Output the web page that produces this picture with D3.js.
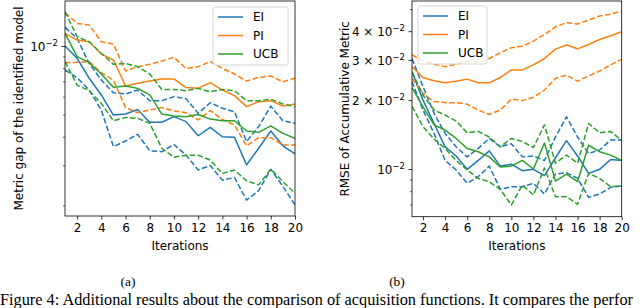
<!DOCTYPE html>
<html>
<head>
<meta charset="utf-8">
<script src="https://cdn.jsdelivr.net/npm/d3@7"></script>
<style>
  body { margin: 0; background: #fff; }
  svg { display: block; }
</style>
</head>
<body>
<svg id="fig" width="640" height="308"></svg>
<script>
// Data (x = iteration, y = metric value)
var iterations = [1, 2, 3, 4, 5, 6, 7, 8, 9, 10, 11, 12, 13, 14, 15, 16, 17, 18, 19, 20];
var xTicks = [2, 4, 6, 8, 10, 12, 14, 16, 18, 20];

// (a) metric gap of the identified model, in units of 1e-3
var gapEI      = [10.0, 8.83, 7.22, 6.10, 4.98, 5.03, 5.27, 4.63, 4.63, 4.90, 4.66, 4.04, 4.40, 4.00, 3.98, 3.01, 3.56, 4.24, 3.65, 3.36];
var gapEIUp    = [12.07, 10.80, 8.39, 7.09, 6.24, 6.16, 6.41, 5.76, 5.76, 6.00, 5.87, 5.07, 5.64, 5.33, 5.15, 3.81, 4.43, 5.45, 4.70, 4.58];
var gapEILo    = [7.85, 7.26, 6.41, 5.24, 3.62, 3.83, 4.10, 3.47, 3.44, 3.70, 3.32, 2.86, 2.99, 2.58, 2.65, 2.11, 2.32, 2.88, 2.42, 2.01];
var gapPI      = [11.37, 10.62, 10.44, 9.22, 8.68, 6.68, 6.86, 7.02, 7.17, 7.17, 6.57, 6.52, 6.91, 6.41, 6.06, 5.42, 5.70, 5.76, 5.45, 5.57];
var gapPIUp    = [14.00, 12.57, 12.36, 10.44, 10.20, 7.77, 8.12, 8.31, 8.59, 8.92, 7.98, 8.12, 8.54, 7.98, 7.54, 7.02, 7.29, 7.39, 6.97, 7.22];
var gapPILo    = [8.45, 8.48, 8.54, 7.64, 7.09, 5.38, 5.10, 5.24, 5.38, 5.19, 5.10, 4.74, 5.21, 4.77, 4.50, 3.65, 3.96, 3.96, 3.68, 3.68];
var gapUCB     = [11.37, 8.98, 8.45, 7.54, 6.59, 6.68, 6.52, 6.10, 5.03, 4.93, 4.90, 5.01, 4.78, 4.70, 4.70, 4.24, 4.18, 4.46, 4.14, 3.94];
var gapUCBUp   = [14.15, 10.99, 10.44, 9.29, 8.31, 8.39, 8.12, 7.54, 6.45, 6.45, 6.37, 6.52, 6.30, 6.45, 6.37, 5.76, 5.76, 5.84, 5.57, 5.42];
var gapUCBLo   = [8.54, 6.74, 6.37, 5.60, 4.70, 4.86, 4.82, 4.58, 3.56, 3.25, 3.32, 3.32, 3.16, 2.76, 2.86, 2.56, 2.46, 2.88, 2.54, 2.26];

// (b) RMSE of accumulative metric, in units of 1e-2
var rmseEI     = [2.66, 2.00, 1.58, 1.25, 1.14, 0.997, 1.09, 1.20, 1.03, 1.05, 0.983, 0.997, 0.935, 1.12, 1.33, 1.14, 0.957, 0.997, 1.10, 1.09];
var rmseEIUp   = [3.04, 2.29, 1.75, 1.43, 1.25, 1.13, 1.23, 1.36, 1.25, 1.29, 1.13, 1.14, 1.09, 1.38, 1.69, 1.38, 1.17, 1.21, 1.34, 1.34];
var rmseEILo   = [2.41, 1.81, 1.43, 1.09, 0.990, 0.866, 0.926, 1.03, 0.815, 0.837, 0.837, 0.866, 0.778, 0.951, 0.964, 0.910, 0.752, 0.778, 0.832, 0.843];
var rmsePI     = [2.80, 2.51, 2.43, 2.38, 2.42, 2.47, 2.38, 2.38, 2.51, 2.71, 2.71, 2.85, 3.04, 3.34, 3.48, 3.35, 3.50, 3.68, 3.82, 3.98];
var rmsePIUp   = [3.15, 2.97, 2.87, 2.80, 2.87, 2.96, 2.94, 3.04, 3.22, 3.39, 3.44, 3.62, 3.87, 4.18, 4.36, 4.30, 4.47, 4.66, 4.75, 4.90];
var rmsePILo   = [2.49, 2.14, 1.97, 1.95, 1.95, 1.92, 1.81, 1.73, 1.81, 2.02, 1.99, 2.06, 2.21, 2.49, 2.57, 2.42, 2.55, 2.68, 2.85, 3.02];
var rmseUCB    = [2.27, 1.87, 1.56, 1.48, 1.36, 1.23, 1.19, 1.13, 1.02, 1.03, 1.09, 1.00, 1.30, 0.886, 0.951, 0.880, 1.27, 1.19, 1.15, 1.09];
var rmseUCBUp  = [2.66, 2.10, 1.81, 1.72, 1.62, 1.44, 1.46, 1.38, 1.25, 1.36, 1.32, 1.24, 1.56, 1.06, 1.15, 1.06, 1.58, 1.44, 1.46, 1.33];
var rmseUCBLo  = [1.88, 1.53, 1.35, 1.23, 1.09, 0.990, 0.910, 0.880, 0.815, 0.696, 0.851, 0.770, 1.01, 0.757, 0.757, 0.701, 0.957, 0.910, 0.837, 0.843];

var methods = ['EI', 'PI', 'UCB'];
var colors = ['#1f77b4', '#ff7f0e', '#2ca02c'];
var leftLabeled = [1e-2];
var rightLabeled = [1e-2, 2e-2, 3e-2, 4e-2];

var font = 'DejaVu Sans, sans-serif';
var serif = 'Liberation Serif, Times New Roman, serif';
var svg = d3.select('#fig');

function scaled(arr, k) { return arr.map(function (v) { return v * k; }); }

function superLabel(sel, v) {
  var e = Math.round(Math.floor(Math.log10(v) + 1e-9));
  var m = Math.round(v / Math.pow(10, e));
  sel.text(null);
  sel.append('tspan').text((m === 1 ? '' : m + ' \u00d7 ') + '10');
  sel.append('tspan').attr('dy', -5).attr('font-size', 8.5).text('\u2212' + Math.abs(e));
}

function drawPanel(cfg) {
  var g = svg.append('g');
  var x = d3.scaleLinear().domain([1, 20]).range([cfg.left, cfg.right]);
  var y = d3.scaleLog().domain(cfg.yDomain).range([cfg.bottom, cfg.top]);

  svg.append('clipPath').attr('id', cfg.id + 'clip')
    .append('rect')
    .attr('x', cfg.left).attr('y', cfg.top)
    .attr('width', cfg.right - cfg.left).attr('height', cfg.bottom - cfg.top);

  var line = d3.line()
    .x(function (d, i) { return x(iterations[i]); })
    .y(function (d) { return y(d); });

  var plot = g.append('g').attr('clip-path', 'url(#' + cfg.id + 'clip)');
  cfg.series.forEach(function (s, k) {
    [s.mean, s.up, s.lo].forEach(function (arr, j) {
      plot.append('path')
        .datum(arr)
        .attr('d', line)
        .attr('fill', 'none')
        .attr('stroke', colors[k])
        .attr('stroke-width', 1.5)
        .attr('stroke-dasharray', j === 0 ? null : '5.55,2.4')
        .attr('stroke-linejoin', 'round');
    });
  });

  // x axis
  var xa = g.append('g').attr('transform', 'translate(0,' + cfg.bottom + ')')
    .call(d3.axisBottom(x).tickValues(xTicks).tickSize(3.5).tickPadding(3.5));
  xa.select('.domain').remove();
  xa.attr('font-family', font).attr('font-size', 12);
  xa.selectAll('line').attr('stroke-width', 0.8);

  // y axis: labelled major ticks + minor ticks from the log scale
  var all = y.ticks();
  var ya = g.append('g').attr('transform', 'translate(' + cfg.left + ',0)')
    .call(d3.axisLeft(y).tickValues(all).tickSize(3.5).tickPadding(3.5).tickFormat(''));
  ya.select('.domain').remove();
  ya.attr('font-family', font).attr('font-size', 12);
  ya.selectAll('.tick').each(function (d) {
    var t = d3.select(this);
    var major = cfg.labeled.some(function (v) { return Math.abs(v - d) < 1e-9; });
    t.select('line').attr('x2', major ? -3.5 : -2).attr('stroke-width', major ? 0.8 : 0.6);
    if (major) superLabel(t.select('text').attr('dy', '0.35em'), d);
  });

  // frame
  g.append('rect')
    .attr('x', cfg.left).attr('y', cfg.top)
    .attr('width', cfg.right - cfg.left).attr('height', cfg.bottom - cfg.top)
    .attr('fill', 'none').attr('stroke', '#000').attr('stroke-width', 0.8);

  // axis titles
  g.append('text')
    .attr('x', (cfg.left + cfg.right) / 2).attr('y', 250)
    .attr('text-anchor', 'middle').attr('font-family', font).attr('font-size', 12)
    .text('Iterations');
  g.append('text')
    .attr('transform', 'translate(' + cfg.yLabelX + ',' + (cfg.top + cfg.bottom) / 2 + ') rotate(-90)')
    .attr('text-anchor', 'middle').attr('font-family', font).attr('font-size', 12)
    .text(cfg.yLabel);

  // legend
  var lg = g.append('g').attr('transform', 'translate(' + cfg.legendX + ',' + cfg.legendY + ')');
  lg.append('rect')
    .attr('width', cfg.legendW).attr('height', 58).attr('rx', 2.5)
    .attr('fill', '#fff').attr('fill-opacity', 0.8)
    .attr('stroke', '#ccc').attr('stroke-width', 0.8);
  methods.forEach(function (m, i) {
    var yy = 10 + i * 18.5;
    lg.append('line')
      .attr('x1', 5).attr('x2', 30).attr('y1', yy).attr('y2', yy)
      .attr('stroke', colors[i]).attr('stroke-width', 1.5);
    lg.append('text')
      .attr('x', 40).attr('y', yy).attr('dy', '0.36em')
      .attr('font-family', font).attr('font-size', 12)
      .text(m);
  });

  // sub caption
  svg.append('text')
    .attr('x', cfg.capX).attr('y', 286)
    .attr('text-anchor', 'middle')
    .attr('font-family', serif).attr('font-size', 13.5)
    .text(cfg.caption);
}

drawPanel({
  id: 'a', left: 65, right: 295, top: 1, bottom: 216,
  yDomain: [0.001796, 0.01576],
  labeled: leftLabeled,
  series: [
    { mean: scaled(gapEI, 1e-3),  up: scaled(gapEIUp, 1e-3),  lo: scaled(gapEILo, 1e-3) },
    { mean: scaled(gapPI, 1e-3),  up: scaled(gapPIUp, 1e-3),  lo: scaled(gapPILo, 1e-3) },
    { mean: scaled(gapUCB, 1e-3), up: scaled(gapUCBUp, 1e-3), lo: scaled(gapUCBLo, 1e-3) }
  ],
  yLabel: 'Metric gap of the identified model', yLabelX: 23,
  legendX: 213, legendY: 7, legendW: 75,
  capX: 128, caption: '(a)'
});

drawPanel({
  id: 'b', left: 412, right: 621.7, top: 1, bottom: 216.7,
  yDomain: [0.00619, 0.0542],
  labeled: rightLabeled,
  series: [
    { mean: scaled(rmseEI, 1e-2),  up: scaled(rmseEIUp, 1e-2),  lo: scaled(rmseEILo, 1e-2) },
    { mean: scaled(rmsePI, 1e-2),  up: scaled(rmsePIUp, 1e-2),  lo: scaled(rmsePILo, 1e-2) },
    { mean: scaled(rmseUCB, 1e-2), up: scaled(rmseUCBUp, 1e-2), lo: scaled(rmseUCBLo, 1e-2) }
  ],
  yLabel: 'RMSE of Accumulative Metric', yLabelX: 349,
  legendX: 418, legendY: 6, legendW: 69,
  capX: 397, caption: '(b)'
});

// figure caption: only the part visible in the source crop
svg.append('text')
  .attr('x', 0).attr('y', 305)
  .attr('font-family', serif).attr('font-size', 16.3)
  .text('Figure 4: Additional results about the comparison of acquisition functions. It compares the perfor');
</script>
</body>
</html>
